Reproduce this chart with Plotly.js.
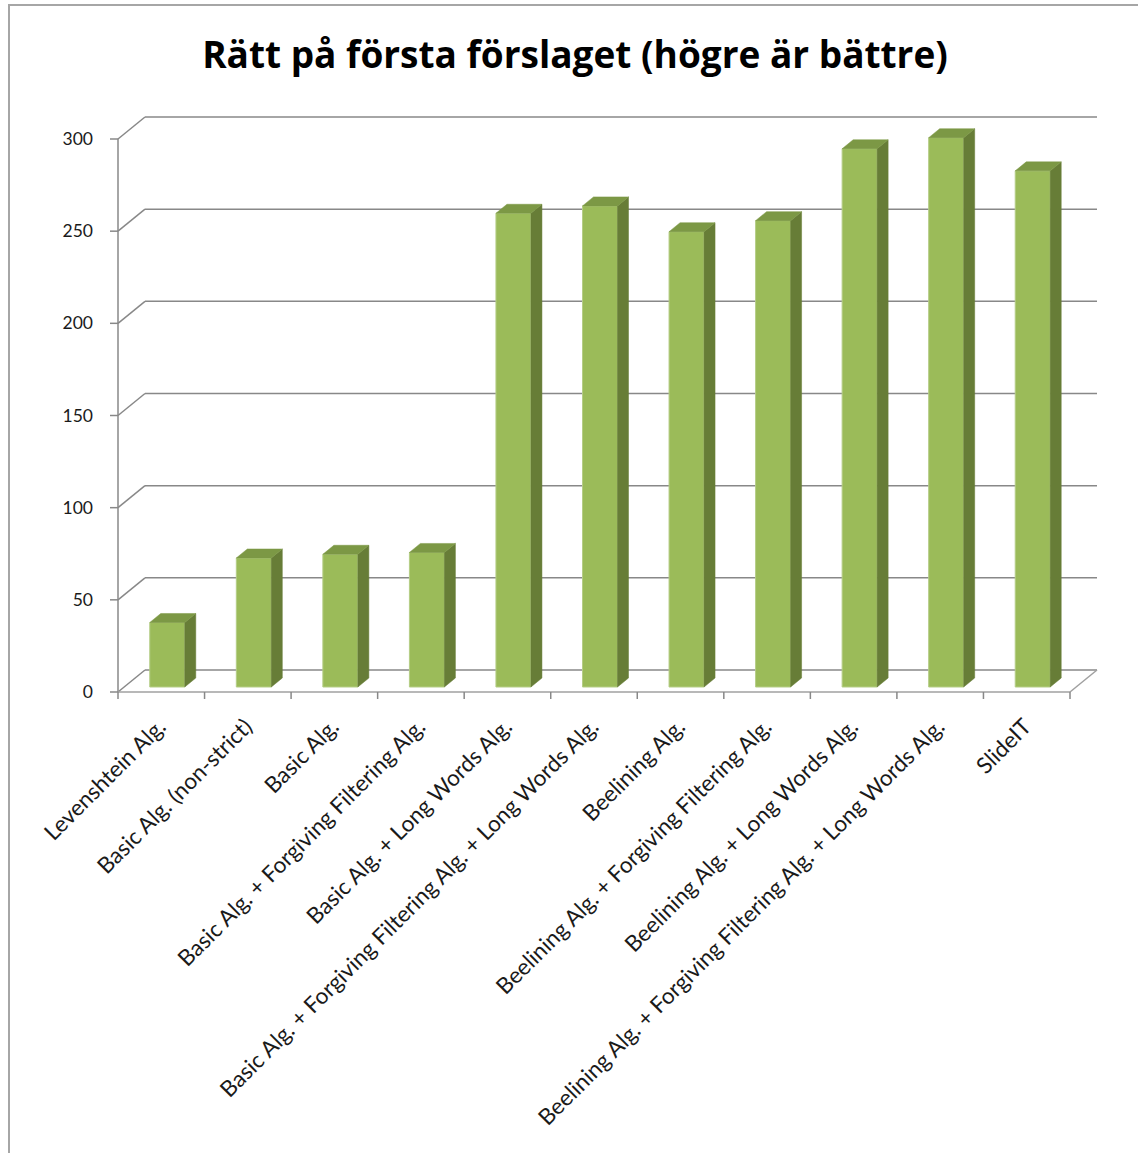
<!DOCTYPE html>
<html>
<head>
<meta charset="utf-8">
<script src="https://cdn.plot.ly/plotly-3.0.1.min.js"></script>
<style>html,body{margin:0;padding:0;background:#fff;}#chart{width:1138px;height:1153px;}</style>
</head>
<body>
<div id="chart"></div>
<script>
// ---- data ----
const categories = [
  "Levenshtein Alg.",
  "Basic Alg. (non-strict)",
  "Basic Alg.",
  "Basic Alg. + Forgiving Filtering Alg.",
  "Basic Alg. + Long Words Alg.",
  "Basic Alg. + Forgiving Filtering Alg. + Long Words Alg.",
  "Beelining Alg.",
  "Beelining Alg. + Forgiving Filtering Alg.",
  "Beelining Alg. + Long Words Alg.",
  "Beelining Alg. + Forgiving Filtering Alg. + Long Words Alg.",
  "SlideIT"
];
const values = [35, 70, 72, 73, 257, 261, 247, 253, 292, 298, 280];
const yTickVals = [0, 50, 100, 150, 200, 250, 300];
const titleText = "Rätt på första förslaget (högre är bättre)";

// ---- geometry (pixels -> data units) ----
const W = 1138, H = 1153;
const PLOT_L = 100, PLOT_R = 1098, PLOT_T = 102, PLOT_B = 702;
const Y0_PX = 692, Y300_PX = 139;
const SY = (Y0_PX - Y300_PX) / 300;
const FRONT_L = 118, FRONT_R = 1070;
const N = categories.length;
const SX = (FRONT_R - FRONT_L) / N;
const XL = -0.5, XR = N - 0.5;
const xRange = [XL - (FRONT_L - PLOT_L) / SX, XL + (PLOT_R - FRONT_L) / SX];
const yRange = [-(PLOT_B - Y0_PX) / SY, (Y0_PX - PLOT_T) / SY];
const DX = 27 / SX, DY = 22 / SY;          // depth of the wall
const BAR_SHIFT = 6 / SX, BASE = 5 / SY;   // bar front plane
const BAR_W = 35 / SX;
const FDX = 11 / SX, FDY = 9 / SY;         // bar depth

const idx = categories.map((_, i) => i);
const gridColor = "#888888";

// shapes: walls, gridlines, ticks
const shapes = [];
function line(x0, y0, x1, y1, color, width) {
  shapes.push({type: "line", xref: "x", yref: "y", x0, y0, x1, y1, layer: "below",
    line: {color: color || gridColor, width: width || 1.5}});
}
yTickVals.forEach(v => {
  line(XL, v, XL + DX, v + DY);
  line(XL + DX, v + DY, XR + DX, v + DY);
  line(XL - 8 / SX, v, XL, v);
});
line(XL, 0, XL, yTickVals[yTickVals.length - 1]);
line(XL, 0, XR, 0, "#a0a0a0");
line(XR, 0, XR + DX, DY, "#a0a0a0");
for (let b = 0; b <= N; b++) {
  line(XL + b, 0, XL + b, -7 / SY);
}
// outer chart border
const pxX = p => (p - PLOT_L) / (PLOT_R - PLOT_L);
const pxY = p => (PLOT_B - p) / (PLOT_B - PLOT_T);
shapes.push({type: "rect", xref: "paper", yref: "paper",
  x0: pxX(9), x1: pxX(W + 5), y0: pxY(H + 5), y1: pxY(5),
  line: {color: "#a6a6a6", width: 2}, fillcolor: "rgba(0,0,0,0)", layer: "below"});

// bar faces built from values
const sideX = [], sideY = [], topX = [], topY = [];
values.forEach((v, i) => {
  const xc = i + BAR_SHIFT;
  const xl = xc - BAR_W / 2, xr = xc + BAR_W / 2;
  const yt = BASE + v;
  sideX.push(xr, xr + FDX, xr + FDX, xr, xr, null);
  sideY.push(BASE, BASE + FDY, yt + FDY, yt, BASE, null);
  topX.push(xl, xl + FDX, xr + FDX, xr, xl, null);
  topY.push(yt, yt + FDY, yt + FDY, yt, yt, null);
});

const traces = [
  {type: "bar", x: idx.map(i => i + BAR_SHIFT), y: values, base: BASE, width: BAR_W,
   marker: {color: "#9bbb59", line: {color: "#b5cd86", width: 1}}, hoverinfo: "skip"},
  {type: "scatter", mode: "lines", x: sideX, y: sideY, fill: "toself",
   fillcolor: "#677d37", line: {color: "#677d37", width: 0.5}, hoverinfo: "skip"},
  {type: "scatter", mode: "lines", x: topX, y: topY, fill: "toself",
   fillcolor: "#7c9845", line: {color: "#7c9845", width: 0.5}, hoverinfo: "skip"}
];

const layout = {
  width: W, height: H,
  margin: {l: PLOT_L, r: W - PLOT_R, t: PLOT_T, b: H - PLOT_B, pad: 0},
  paper_bgcolor: "#ffffff", plot_bgcolor: "rgba(0,0,0,0)",
  showlegend: false, hovermode: false,
  title: {text: titleText, x: (575 - PLOT_L) / (PLOT_R - PLOT_L), xref: "paper", xanchor: "center",
    y: 1 - 55 / H, yref: "container", yanchor: "middle",
    font: {family: "'Open Sans', Lato, sans-serif", size: 37, color: "#000000", weight: "bold"}},
  xaxis: {range: xRange, tickvals: idx, ticktext: categories, tickangle: -45,
    showgrid: false, zeroline: false, showline: false, ticks: "",
    tickfont: {family: "Lato, 'Open Sans', sans-serif", size: 22.5, color: "#1a1a1a"},
    ticklabelstandoff: 6, ticklabelshift: -2, fixedrange: true},
  yaxis: {range: yRange, tickvals: yTickVals, showgrid: false, zeroline: false,
    showline: false, ticks: "",
    tickfont: {family: "Lato, 'Open Sans', sans-serif", size: 17.5, color: "#1a1a1a"},
    ticklabelstandoff: 6, fixedrange: true},
  shapes: shapes
};

Plotly.newPlot("chart", traces, layout, {displayModeBar: false, staticPlot: true});
</script>
</body>
</html>
